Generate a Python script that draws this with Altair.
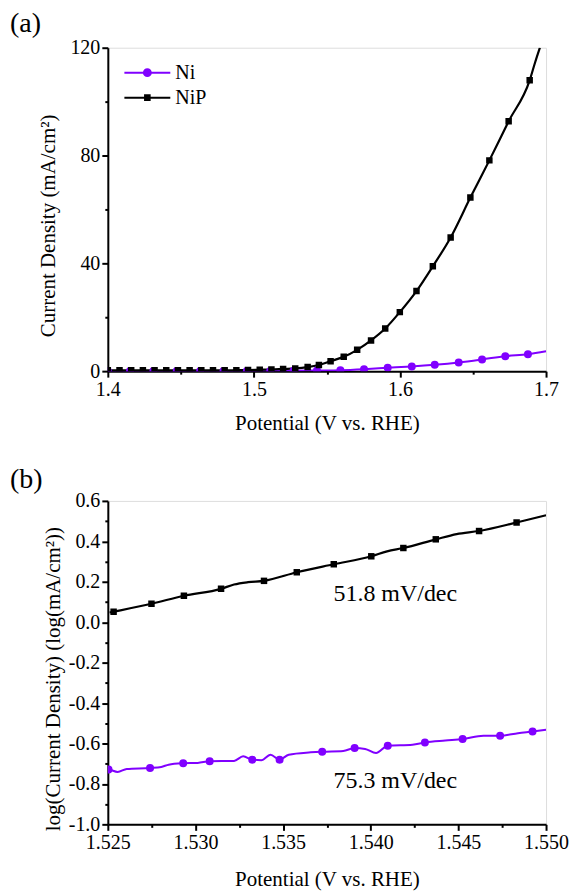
import altair as alt
import pandas as pd

FONT = "Liberation Serif"
PURPLE = "#8000FF"

# ---------------- panel (a) data ----------------
a_nip_mx = [1.400, 1.408, 1.416, 1.424, 1.432, 1.440, 1.448, 1.456, 1.464, 1.472,
            1.480, 1.488, 1.496, 1.504, 1.512, 1.520,
            1.5283, 1.5368, 1.5445, 1.5525, 1.5615, 1.5707, 1.5802, 1.5899, 1.5999,
            1.6113, 1.6225, 1.6347, 1.6482, 1.6612, 1.6744, 1.6888]
a_nip_my = [0.3, 0.3, 0.3, 0.3, 0.3, 0.3, 0.3, 0.3, 0.3, 0.3,
            0.3, 0.35, 0.4, 0.5, 0.6, 0.8,
            1.0, 1.5, 2.3, 3.7, 5.3, 7.9, 11.4, 15.8, 21.9,
            29.7, 38.9, 49.6, 64.4, 78.2, 92.7, 107.9]
a_nip_lx = a_nip_mx + [1.6925, 1.6958]
a_nip_ly = a_nip_my + [114.5, 120.0]

a_ni_mx = [1.400, 1.4152, 1.4312, 1.4472, 1.4632, 1.4792, 1.4952, 1.5112, 1.5272, 1.5432,
           1.5592, 1.5754, 1.5916, 1.6081, 1.6238, 1.6402, 1.6562, 1.6721, 1.6876]
a_ni_my = [0.05, 0.05, 0.05, 0.05, 0.05, 0.05, 0.05, 0.1, 0.15, 0.25,
           0.37, 0.74, 1.24, 1.73, 2.35, 3.21, 4.33, 5.56, 6.30]
a_ni_lx = a_ni_mx + [1.700]
a_ni_ly = a_ni_my + [7.4]

# ---------------- panel (b) data ----------------
b_nip_mx = [1.52533, 1.52749, 1.52934, 1.53146, 1.53391, 1.53578, 1.53789, 1.54003,
            1.54186, 1.54371, 1.54618, 1.54832]
b_nip_my = [0.052, 0.091, 0.131, 0.165, 0.2045, 0.247, 0.2866, 0.326,
            0.367, 0.410, 0.451, 0.493]
b_nip_lx = [1.5251, 1.52533, 1.52749, 1.52934, 1.53146, 1.5322, 1.5330, 1.53391, 1.53578,
            1.53789, 1.54003, 1.54093, 1.54186, 1.54371, 1.5449, 1.54618, 1.54832, 1.5500]
b_nip_ly = [0.048, 0.052, 0.091, 0.131, 0.165, 0.1865, 0.198, 0.2045, 0.247,
            0.2866, 0.326, 0.3506, 0.367, 0.410, 0.436, 0.451, 0.493, 0.529]

b_ni_mx = [1.52504, 1.52741, 1.5293, 1.53081, 1.53324, 1.5348, 1.53723, 1.53908,
           1.54097, 1.54309, 1.54524, 1.54738, 1.54923]
b_ni_my = [-0.729, -0.721, -0.698, -0.688, -0.680, -0.680, -0.6406, -0.6225,
           -0.611, -0.5946, -0.578, -0.562, -0.5405]
b_ni_lx = [1.52500, 1.52504, 1.52556, 1.52608, 1.52741, 1.52805, 1.52847, 1.5293, 1.53013,
           1.53081, 1.5322, 1.53272, 1.53324, 1.53376, 1.53428, 1.5348, 1.53532, 1.53657,
           1.53723, 1.53843, 1.53908, 1.53968, 1.54030, 1.54097, 1.54238, 1.54309,
           1.54425, 1.54524, 1.54643, 1.54738, 1.54840, 1.54923, 1.55000]
b_ni_ly = [-0.729, -0.729, -0.741, -0.726, -0.721, -0.716, -0.705, -0.698, -0.696,
           -0.688, -0.6865, -0.6636, -0.680, -0.683, -0.6553, -0.680, -0.6553, -0.644,
           -0.6406, -0.637, -0.6225, -0.627, -0.647, -0.611, -0.606, -0.5946,
           -0.585, -0.578, -0.562, -0.562, -0.549, -0.5405, -0.532]

b_text_x = [1.5414, 1.5414]
b_text_y = [0.137, -0.788]
b_text = ["51.8 mV/dec", "75.3 mV/dec"]

# tick values
a_xticks = [1.40, 1.45, 1.50, 1.55, 1.60, 1.65, 1.70]
a_yticks = [0, 20, 40, 60, 80, 100, 120]
b_xticks = [1.525, 1.5275, 1.530, 1.5325, 1.535, 1.5375, 1.540, 1.5425, 1.545, 1.5475, 1.550]
b_yticks = [0.6, 0.5, 0.4, 0.3, 0.2, 0.1, 0.0, -0.1, -0.2, -0.3, -0.4, -0.5, -0.6,
            -0.7, -0.8, -0.9, -1.0]


def frame(xs, ys, name):
    df = pd.DataFrame({"V": xs, "J": ys, "series": name})
    df["idx"] = range(len(df))
    return df


CIRC = "M-1,0L1,0M-0.15,0A0.15,0.15,0,1,1,0.15,0A0.15,0.15,0,1,1,-0.15,0Z"
SQ = "M-1,0L1,0M-0.1,-0.1L0.1,-0.1L0.1,0.1L-0.1,0.1Z"


def legend_spec(path, color, y):
    return alt.Legend(
        orient="none", legendX=15.6, legendY=y, title=None,
        labelFont=FONT, labelFontSize=20, labelColor="black", labelOffset=4,
        symbolType=path, symbolSize=2116, padding=0, symbolStrokeWidth=2,
        symbolStrokeColor=color, symbolFillColor=color, symbolOpacity=1,
    )


def cond_size(test):
    return {"condition": {"test": test, "value": 6}, "value": 3}


def axis(title, ticks, test, fmt, title_pad=None, title_x=None):
    label = (f"({test}) ? (datum.value < 0 ? '-' + format(abs(datum.value), '{fmt}') "
             f": format(datum.value, '{fmt}')) : ''")
    kw = dict(
        title=title, values=ticks, labelExpr=label, tickSize=cond_size(test),
        tickColor="black", tickWidth=2, domainColor="black", domainWidth=2,
        labelFont=FONT, labelFontSize=20, labelColor="black", labelPadding=2,
        titleFont=FONT, titleFontSize=21, titleFontWeight="normal", titleColor="black",
        grid=False, labelFlush=False, labelOverlap=False,
    )
    if title_pad is not None:
        kw["titlePadding"] = title_pad
    if title_x is not None:
        kw.update(titleX=title_x, titleY=178, titleBaseline="middle", titleAngle=-90)
    return alt.Axis(**kw)


def panel(tag, tag_offset, leg_y, ni_line, nip_line, ni_pts, nip_pts, xdom, ydom,
          xaxis, yaxis, text_df=None):
    X = alt.X("V:Q", scale=alt.Scale(domain=xdom, nice=False, zero=False), axis=xaxis)
    Y = alt.Y("J:Q", scale=alt.Scale(domain=ydom, nice=False, zero=False), axis=yaxis)
    l_ni = alt.Chart(ni_line).mark_line(strokeWidth=2, interpolate="monotone", clip=True,
                                        color=PURPLE).encode(x=X, y=Y, order="idx:Q")
    l_nip = alt.Chart(nip_line).mark_line(strokeWidth=2.2, interpolate="monotone", clip=True,
                                          color="black").encode(x=X, y=Y, order="idx:Q")
    p_ni = alt.Chart(ni_pts).mark_point(filled=True, opacity=1, clip=True, shape="circle",
                                        size=64).encode(
        x=X, y=Y,
        color=alt.Color("series:N", scale=alt.Scale(domain=["Ni"], range=[PURPLE]),
                        legend=legend_spec(CIRC, PURPLE, leg_y)),
    )
    p_nip = alt.Chart(nip_pts).mark_point(filled=True, opacity=1, clip=True, shape="square",
                                          size=42).encode(
        x=X, y=Y,
        fill=alt.Fill("series:N", scale=alt.Scale(domain=["NiP"], range=["black"]),
                      legend=legend_spec(SQ, "black", leg_y + 25)),
    )
    layers = [l_ni, l_nip, p_ni, p_nip]
    if text_df is not None:
        layers.append(alt.Chart(text_df).mark_text(font=FONT, fontSize=24, color="black",
                                                   baseline="middle", align="center").encode(
            x=X, y=Y, text="label:N"))
    return alt.layer(*layers).properties(
        width=439, height=324,
        title=alt.TitleParams(tag, anchor="start", frame="group", dx=-98, offset=tag_offset,
                              font=FONT, fontSize=28, fontWeight="normal", color="black"),
    )


b_txt = pd.DataFrame({"V": b_text_x, "J": b_text_y, "label": b_text})

ax_a_x = axis("Potential (V vs. RHE)", a_xticks,
              "abs(datum.value*10 - round(datum.value*10)) < 1e-6", ".1f", title_pad=13)
ax_a_y = axis("Current Density (mA/cm²)", a_yticks,
              "datum.value % 40 == 0", ".0f", title_x=-59)
ax_b_x = axis("Potential (V vs. RHE)", b_xticks,
              "abs(datum.value*200 - round(datum.value*200)) < 1e-6", ".3f", title_pad=16)
ax_b_y = axis("log(Current Density) (log(mA/cm²))", b_yticks,
              "abs(datum.value*5 - round(datum.value*5)) < 1e-6", ".1f", title_x=-54)

pa = panel("(a)", 0, 1.0, frame(a_ni_lx, a_ni_ly, "Ni"), frame(a_nip_lx, a_nip_ly, "NiP"),
           frame(a_ni_mx, a_ni_my, "Ni"), frame(a_nip_mx, a_nip_my, "NiP"),
           [1.4, 1.7], [0, 120], ax_a_x, ax_a_y)
pb = panel("(b)", -3, -2.4, frame(b_ni_lx, b_ni_ly, "Ni"), frame(b_nip_lx, b_nip_ly, "NiP"),
           frame(b_ni_mx, b_ni_my, "Ni"), frame(b_nip_mx, b_nip_my, "NiP"),
           [1.525, 1.550], [-1.0, 0.6], ax_b_x, ax_b_y, b_txt)

chart = alt.vconcat(pa, pb, spacing=31).properties(
    padding={"left": 1, "top": 0, "right": 0, "bottom": 0}
).configure_view(stroke="black", strokeWidth=2).configure(background="white")

chart.save("out.html", embed_options={"renderer": "svg", "actions": False})
